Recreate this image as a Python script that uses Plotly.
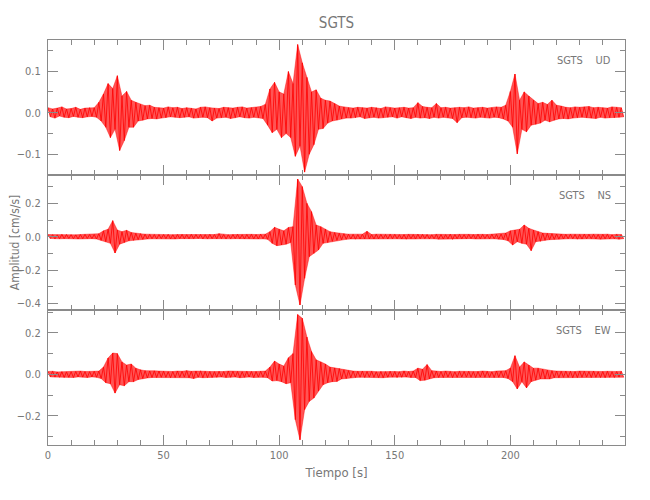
import numpy as np
import plotly.graph_objects as go
from plotly.subplots import make_subplots

# Sampling interval of the peak series (seconds)
SAMPLE_DT = 1.0

# Per-second extreme amplitudes (cm/s/s):
# even seconds hold the positive peak, odd seconds the negative peak
UD = [
    0.012,-0.010,0.009,-0.013,0.011,-0.008,0.014,-0.011,0.009,-0.012,
    0.010,-0.009,0.013,-0.011,0.008,-0.012,0.011,-0.010,0.012,-0.009,
    0.012,-0.011,0.025,-0.020,0.045,-0.035,0.070,-0.060,0.058,-0.040,
    0.089,-0.091,0.040,-0.067,0.051,-0.035,0.030,-0.035,0.025,-0.020,
    0.020,-0.018,0.017,-0.015,0.018,-0.014,0.013,-0.015,0.012,-0.013,
    0.011,-0.012,0.014,-0.010,0.012,-0.011,0.013,-0.012,0.010,-0.011,
    0.012,-0.010,0.011,-0.013,0.009,-0.012,0.013,-0.011,0.014,-0.012,
    0.012,-0.020,0.011,-0.013,0.010,-0.012,0.013,-0.011,0.012,-0.014,
    0.011,-0.012,0.013,-0.010,0.014,-0.012,0.011,-0.013,0.012,-0.011,
    0.013,-0.012,0.015,-0.014,0.020,-0.030,0.057,-0.048,0.073,-0.040,
    0.050,-0.060,0.045,-0.050,0.099,-0.060,0.070,-0.105,0.164,-0.080,
    0.120,-0.143,0.085,-0.100,0.050,-0.077,0.055,-0.040,0.035,-0.038,
    0.030,-0.025,0.028,-0.020,0.022,-0.018,0.016,-0.015,0.014,-0.013,
    0.012,-0.013,0.011,-0.012,0.013,-0.010,0.012,-0.014,0.011,-0.012,
    0.013,-0.011,0.012,-0.013,0.010,-0.012,0.014,-0.011,0.012,-0.010,
    0.011,-0.013,0.012,-0.010,0.013,-0.012,0.011,-0.014,0.012,-0.011,
    0.024,-0.013,0.015,-0.012,0.013,-0.014,0.012,-0.011,0.022,-0.013,
    0.012,-0.011,0.013,-0.012,0.011,-0.014,0.012,-0.024,0.013,-0.012,
    0.012,-0.011,0.014,-0.012,0.011,-0.013,0.012,-0.011,0.013,-0.012,
    0.011,-0.013,0.012,-0.011,0.014,-0.012,0.013,-0.015,0.018,-0.020,
    0.051,-0.035,0.093,-0.099,0.030,-0.040,0.050,-0.046,0.040,-0.030,
    0.030,-0.028,0.022,-0.025,0.025,-0.018,0.020,-0.022,0.030,-0.018,
    0.018,-0.015,0.016,-0.014,0.013,-0.015,0.012,-0.013,0.014,-0.012,
    0.013,-0.011,0.014,-0.012,0.015,-0.013,0.012,-0.014,0.013,-0.011,
    0.012,-0.013,0.011,-0.012,0.014,-0.012,0.013,-0.011,0.012,-0.010,
]

NS = [
    0.013,-0.011,0.012,-0.014,0.011,-0.013,0.014,-0.012,0.013,-0.011,
    0.012,-0.013,0.011,-0.014,0.013,-0.012,0.014,-0.011,0.013,-0.012,
    0.013,-0.014,0.018,-0.022,0.035,-0.030,0.045,-0.040,0.096,-0.098,
    0.040,-0.045,0.030,-0.035,0.038,-0.025,0.025,-0.022,0.020,-0.018,
    0.018,-0.016,0.015,-0.014,0.014,-0.013,0.013,-0.014,0.013,-0.012,
    0.013,-0.012,0.014,-0.013,0.012,-0.014,0.013,-0.012,0.014,-0.013,
    0.012,-0.013,0.014,-0.012,0.013,-0.011,0.013,-0.014,0.012,-0.013,
    0.014,-0.012,0.013,-0.013,0.018,-0.012,0.013,-0.014,0.012,-0.013,
    0.013,-0.012,0.014,-0.013,0.012,-0.014,0.013,-0.012,0.014,-0.013,
    0.013,-0.014,0.015,-0.013,0.015,-0.016,0.030,-0.040,0.056,-0.054,
    0.045,-0.050,0.035,-0.045,0.055,-0.035,0.060,-0.290,0.346,-0.410,
    0.300,-0.250,0.200,-0.120,0.150,-0.100,0.070,-0.080,0.060,-0.040,
    0.045,-0.035,0.030,-0.028,0.025,-0.022,0.020,-0.018,0.018,-0.016,
    0.015,-0.014,0.014,-0.015,0.013,-0.014,0.015,-0.013,0.032,-0.014,
    0.013,-0.014,0.015,-0.013,0.014,-0.012,0.013,-0.014,0.015,-0.013,
    0.014,-0.013,0.012,-0.014,0.013,-0.015,0.014,-0.012,0.013,-0.014,
    0.015,-0.013,0.014,-0.012,0.013,-0.014,0.012,-0.013,0.014,-0.015,
    0.013,-0.014,0.012,-0.013,0.015,-0.016,0.013,-0.012,0.014,-0.013,
    0.012,-0.013,0.014,-0.012,0.013,-0.014,0.015,-0.013,0.014,-0.012,
    0.013,-0.014,0.015,-0.013,0.014,-0.015,0.016,-0.017,0.022,-0.025,
    0.035,-0.050,0.040,-0.030,0.045,-0.040,0.070,-0.045,0.050,-0.084,
    0.040,-0.030,0.030,-0.028,0.022,-0.022,0.020,-0.018,0.018,-0.016,
    0.016,-0.015,0.015,-0.014,0.014,-0.013,0.015,-0.013,0.014,-0.015,
    0.013,-0.014,0.015,-0.013,0.014,-0.012,0.015,-0.014,0.013,-0.015,
    0.014,-0.013,0.015,-0.014,0.012,-0.013,0.014,-0.015,0.013,-0.012,
]

EW = [
    0.014,-0.012,0.015,-0.013,0.012,-0.014,0.013,-0.015,0.012,-0.014,
    0.013,-0.015,0.014,-0.012,0.016,-0.013,0.014,-0.015,0.013,-0.012,
    0.015,-0.014,0.016,-0.020,0.035,-0.040,0.079,-0.045,0.103,-0.090,
    0.100,-0.050,0.060,-0.055,0.045,-0.035,0.050,-0.035,0.030,-0.025,
    0.022,-0.020,0.018,-0.017,0.016,-0.015,0.017,-0.015,0.016,-0.014,
    0.015,-0.014,0.013,-0.016,0.014,-0.015,0.016,-0.014,0.015,-0.013,
    0.018,-0.016,0.015,-0.020,0.016,-0.014,0.017,-0.016,0.015,-0.015,
    0.014,-0.015,0.013,-0.014,0.015,-0.013,0.014,-0.015,0.016,-0.014,
    0.015,-0.013,0.014,-0.016,0.013,-0.014,0.015,-0.013,0.014,-0.015,
    0.014,-0.013,0.015,-0.014,0.016,-0.016,0.035,-0.032,0.064,-0.030,
    0.050,-0.035,0.040,-0.045,0.080,-0.040,0.100,-0.218,0.288,-0.315,
    0.270,-0.170,0.180,-0.130,0.110,-0.114,0.070,-0.080,0.060,-0.050,
    0.050,-0.040,0.035,-0.035,0.031,-0.034,0.028,-0.022,0.022,-0.020,
    0.018,-0.016,0.016,-0.015,0.015,-0.014,0.016,-0.015,0.014,-0.013,
    0.015,-0.014,0.013,-0.015,0.014,-0.016,0.013,-0.014,0.015,-0.013,
    0.014,-0.015,0.013,-0.014,0.016,-0.013,0.014,-0.015,0.016,-0.015,
    0.030,-0.030,0.025,-0.028,0.047,-0.022,0.018,-0.016,0.016,-0.015,
    0.014,-0.015,0.016,-0.013,0.014,-0.015,0.013,-0.014,0.015,-0.013,
    0.014,-0.013,0.015,-0.014,0.013,-0.015,0.014,-0.013,0.016,-0.014,
    0.015,-0.014,0.013,-0.015,0.016,-0.014,0.016,-0.015,0.018,-0.020,
    0.030,-0.035,0.090,-0.070,0.035,-0.035,0.060,-0.065,0.045,-0.035,
    0.030,-0.028,0.030,-0.022,0.025,-0.022,0.020,-0.022,0.018,-0.016,
    0.016,-0.016,0.015,-0.014,0.016,-0.014,0.015,-0.016,0.014,-0.015,
    0.016,-0.014,0.015,-0.013,0.014,-0.015,0.016,-0.014,0.013,-0.015,
    0.014,-0.016,0.015,-0.014,0.013,-0.015,0.014,-0.013,0.015,-0.014,
]

COMPONENTS = ["UD", "NS", "EW"]
STATION = "SGTS"
Y_RANGES = [[-0.15, 0.175], [-0.44, 0.37], [-0.34, 0.31]]
Y_DTICK = [0.1, 0.2, 0.2]
X_RANGE = [0, 249.6]

series = [UD, NS, EW]

AX = "#8a8a8a"
TXT = "#777777"
FONT = "'Liberation Sans Narrow', 'DejaVu Sans Condensed', 'Liberation Sans', Arial, sans-serif"

fig = make_subplots(rows=3, cols=1, shared_xaxes=True, vertical_spacing=0)

for i, vals in enumerate(series):
    t = np.arange(len(vals)) * SAMPLE_DT
    vals = np.asarray(vals)
    # negative peaks (odd seconds) form the lower edge of the trace band
    fig.add_trace(
        go.Scatter(x=t[1::2], y=vals[1::2], mode="lines",
                   line=dict(color="rgba(255,0,0,0.7)", width=0.6),
                   showlegend=False, hoverinfo="skip"),
        row=i + 1, col=1)
    # positive peaks (even seconds) form the upper edge, filled to the lower
    fig.add_trace(
        go.Scatter(x=t[0::2], y=vals[0::2], mode="lines",
                   line=dict(color="rgba(255,0,0,0.7)", width=0.6),
                   fill="tonexty", fillcolor="rgba(255,20,20,0.72)",
                   showlegend=False, hoverinfo="skip"),
        row=i + 1, col=1)
    # the full zig-zag of the samples
    fig.add_trace(
        go.Scatter(x=t, y=vals, mode="lines",
                   line=dict(color="#ff0000", width=0.8),
                   showlegend=False, hoverinfo="skip"),
        row=i + 1, col=1)
    fig.update_yaxes(
        range=Y_RANGES[i], dtick=Y_DTICK[i], tick0=0, tickformat=".1f",
        showline=True, linecolor=AX, linewidth=1, mirror="allticks",
        ticks="inside", ticklen=10, tickcolor=AX, tickwidth=1,
        minor=dict(ticks="inside", ticklen=5, dtick=Y_DTICK[i] / 2,
                   tickcolor=AX, showgrid=False),
        showgrid=False, zeroline=False, automargin=False,
        tickfont=dict(family=FONT, size=11, color=TXT),
        ticklabelstandoff=4,
        row=i + 1, col=1)
    fig.update_xaxes(
        range=X_RANGE, dtick=50, tick0=0,
        showline=True, linecolor=AX, linewidth=1, mirror="allticks",
        ticks="inside", ticklen=10, tickcolor=AX, tickwidth=1,
        minor=dict(ticks="inside", ticklen=5, dtick=10,
                   tickcolor=AX, showgrid=False),
        showgrid=False, zeroline=False, automargin=False,
        tickfont=dict(family=FONT, size=11, color=TXT),
        row=i + 1, col=1)
    fig.add_annotation(
        text=STATION + "\u00a0\u00a0\u00a0\u00a0" + COMPONENTS[i],
        xref="x domain" if i == 0 else f"x{i+1} domain",
        yref="y domain" if i == 0 else f"y{i+1} domain",
        x=0.98, y=0.845, xanchor="right", yanchor="middle",
        showarrow=False, font=dict(family=FONT, size=11, color=TXT))

fig.update_xaxes(title=dict(text="Tiempo [s]", standoff=6,
                            font=dict(family=FONT, size=13, color=TXT)),
                 row=3, col=1)
fig.update_yaxes(title=dict(text="Amplitud [cm/s/s]", standoff=0,
                            font=dict(family=FONT, size=12, color=TXT)),
                 row=2, col=1)

# the page places the figure 8 px in from the top-left corner
fig.update_layout(
    width=650, height=500,
    margin=dict(l=40, r=33, t=32, b=63, autoexpand=False),
    paper_bgcolor="white", plot_bgcolor="white",
    title=dict(text=STATION, x=0.5, xref="paper", y=1 - 15 / 500,
               yref="container", yanchor="middle", xanchor="center",
               font=dict(family=FONT, size=15, color=TXT)),
)

fig.write_html("out.html")
